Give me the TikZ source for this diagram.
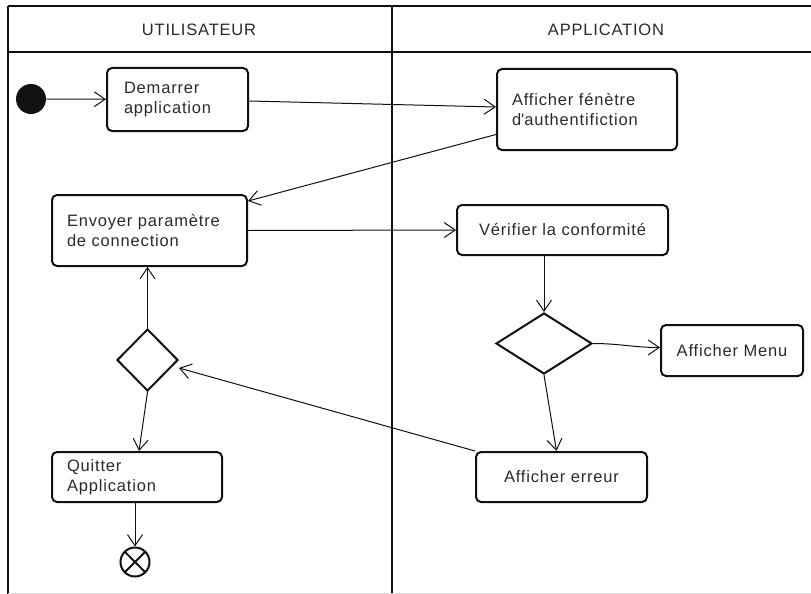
\documentclass[tikz,border=0pt]{standalone}
\usepackage{fontspec}
\setmainfont{Liberation Sans}[LetterSpace=5]
\usetikzlibrary{arrows.meta,positioning,shapes.geometric,calc}
\definecolor{ink}{HTML}{111111}
\definecolor{ink2}{HTML}{2A2A2A}

\begin{document}
\begin{tikzpicture}[x=1pt, y=-1pt,
  font=\fontsize{16.5}{20}\selectfont, line width=1pt,
  box/.style={draw=ink, line width=2pt, rounded corners=5pt, inner sep=0pt, align=left, text=ink2},
  choix/.style={draw=ink, diamond, line width=2pt, inner sep=0pt},
  lane/.style={draw=ink, line width=2.4pt},
  arr/.style={-{Straight Barb[length=11pt,width=15pt]}, draw=ink, line width=1pt}]
\useasboundingbox (0,0) rectangle (811,594);

% swimlanes
\draw[lane] (8,6) -- (811,6);
\draw[lane] (8,52) -- (811,52);
\draw[lane] (8,6) -- (8,594);
\draw[lane] (392,6) -- (392,594);
\draw[gray!30, line width=1pt] (8,593) -- (811,593);
\node[text=ink2] (hUser) at (199,30) {UTILISATEUR};
\node[text=ink2] (hApp)  at (606,30) {APPLICATION};

% lane 1: utilisateur
\node[circle, fill=ink, minimum size=30pt, inner sep=0pt] (start) at (31,99) {};
\node[box, minimum height=63pt, text width=107pt, inner xsep=17pt] (demarrer) at (177.5,99.5) {Demarrer\\application};
\node[box, minimum height=71pt, text width=165pt, inner xsep=15pt] (envoyer) at (149.5,230.5) {Envoyer paramètre\\de connection};
\node[choix, minimum width=61pt, minimum height=62pt] (choixA) at (147.5,360) {};
\node[box, minimum height=50pt, text width=140pt, inner xsep=15pt] (quitter) at (137,477) {Quitter\\Application};
\node[circle, draw=ink, line width=2pt, minimum size=29pt, inner sep=0pt,
  path picture={\draw[line width=2pt] (path picture bounding box.south west) -- (path picture bounding box.north east)
                (path picture bounding box.north west) -- (path picture bounding box.south east);}] (fin) at (135,562) {};

% lane 2: application
\node[box, minimum height=81pt, text width=150pt, inner xsep=15pt] (fenetre) at (587,109.5) {Afficher fénètre\\d\textquotesingle authentifiction};
\node[box, align=center, minimum width=211pt, minimum height=50pt] (verifier) at (562.5,230) {Vérifier la conformité};
\node[choix, minimum width=96pt, minimum height=61pt] (choixB) at (544,343.5) {};
\node[box, align=center, minimum width=142pt, minimum height=51pt] (menu) at (732,350.5) {Afficher Menu};
\node[box, align=center, minimum width=171pt, minimum height=50pt] (erreur) at (561.5,477) {Afficher erreur};

% flows
\draw[arr] (start) -- (demarrer);
\draw[arr] ([yshift=-1.5pt]demarrer.east) -- ([yshift=2.5pt]fenetre.west);
\draw[arr] ([yshift=-25pt]fenetre.west) -- ([yshift=-7pt]envoyer.north east);
\draw[arr] (envoyer.east) -- (verifier.west);
\draw[arr] (verifier.south -| choixB.north) -- (choixB.north);
\draw[arr] (choixB.east) to[out=0, in=180] ([yshift=3pt]menu.west);
\draw[arr] (choixB.south) -- ([xshift=-5pt]erreur.north);
\draw[arr] (erreur.north west) -- ([yshift=-8pt]choixA.east);
\draw[arr] (choixA.north) -- (choixA.north |- envoyer.south);
\draw[arr] (choixA.south) -- ([xshift=2pt]quitter.north);
\draw[arr] (quitter.south -| fin.north) -- (fin.north);
\end{tikzpicture}
\end{document}
